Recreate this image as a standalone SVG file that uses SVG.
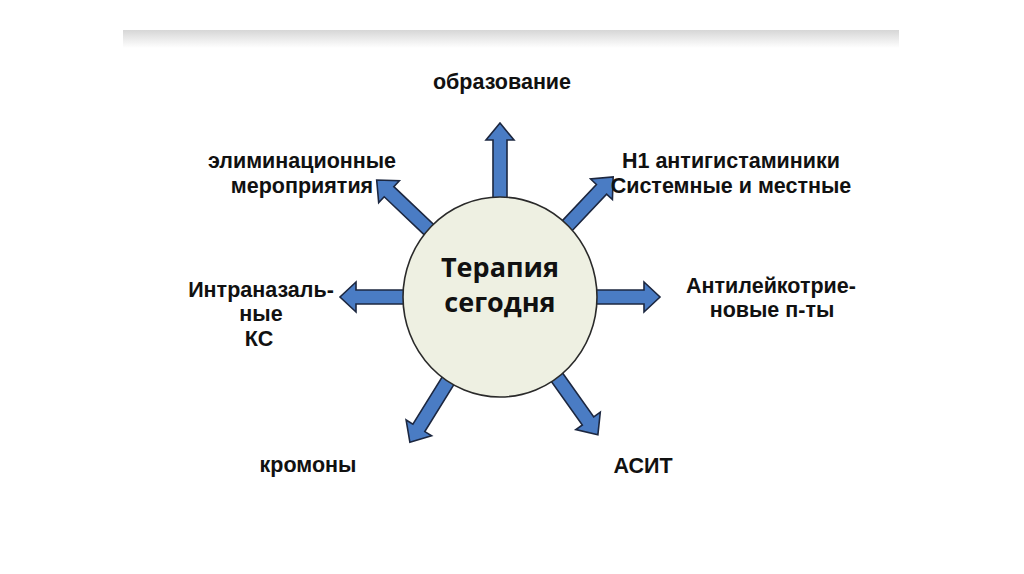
<svg xmlns="http://www.w3.org/2000/svg" width="1024" height="574" viewBox="0 0 1024 574">
<defs>
<linearGradient id="band" x1="0" y1="0" x2="0" y2="1">
<stop offset="0" stop-color="#d6d6d6"/>
<stop offset="0.5" stop-color="#ebebeb"/>
<stop offset="1" stop-color="#ffffff"/>
</linearGradient>
</defs>
<style>
.arr{fill:#4a7cc4;stroke:#1c2740;stroke-width:1.6;stroke-linejoin:miter}
.lbl{font-family:"Liberation Sans",Arial,sans-serif;font-weight:bold;font-size:21.5px;fill:#111;text-anchor:middle}
.ctr{font-family:"Open Sans","Liberation Sans",sans-serif;font-weight:bold;font-size:27px;fill:#111;text-anchor:middle}
</style>
<rect x="0" y="0" width="1024" height="574" fill="#ffffff"/>
<rect x="123" y="30" width="776" height="18" fill="url(#band)"/>
<g id="connectors">
<path class="arr" transform="translate(500,297) rotate(-90)" d="M85,-7 L157,-7 L157,-14 L174,0 L157,14 L157,7 L85,7 Z"/>
<path class="arr" transform="translate(500,297) rotate(180)" d="M85,-7 L144,-7 L144,-15 L160,0 L144,15 L144,7 L85,7 Z"/>
<path class="arr" transform="translate(500,297) rotate(0)" d="M85,-7 L144,-7 L144,-15 L160,0 L144,15 L144,7 L85,7 Z"/>
<path class="arr" transform="translate(500,297) rotate(-136.5)" d="M85,-7 L153,-7 L153,-15 L170,0 L153,15 L153,7 L85,7 Z"/>
<path class="arr" transform="translate(500,297) rotate(-46.7)" d="M85,-7 L148,-7 L148,-15 L165,0 L148,15 L148,7 L85,7 Z"/>
<path class="arr" transform="translate(500,297) rotate(121.8)" d="M85,-7 L154,-7 L154,-15 L171,0 L154,15 L154,7 L85,7 Z"/>
<path class="arr" transform="translate(500,297) rotate(54.6)" d="M85,-7 L152,-7 L152,-15 L169,0 L152,15 L152,7 L85,7 Z"/>
</g>
<g id="center">
<ellipse cx="500" cy="297" rx="97" ry="100" fill="#eef0e2" stroke="#2a2a2a" stroke-width="1.6"/>
<text class="ctr" x="500" y="277">Терапия</text>
<text class="ctr" x="500" y="312">сегодня</text>
</g>
<g id="n-obrazovanie"><text class="lbl" x="502" y="89">образование</text></g>
<g id="n-elim"><text class="lbl" x="302" y="168">элиминационные</text><text class="lbl" x="302" y="193">мероприятия</text></g>
<g id="n-h1"><text class="lbl" x="731" y="168">Н1 антигистаминики</text><text class="lbl" x="731" y="193">Системные и местные</text></g>
<g id="n-intra"><text class="lbl" x="261" y="297">Интраназаль-</text><text class="lbl" x="261" y="321">ные</text><text class="lbl" x="259" y="346">КС</text></g>
<g id="n-antilei"><text class="lbl" x="771" y="293">Антилейкотрие-</text><text class="lbl" x="772" y="317">новые п-ты</text></g>
<g id="n-kromony"><text class="lbl" x="308" y="472">кромоны</text></g>
<g id="n-asit"><text class="lbl" x="643" y="473">АСИТ</text></g>
</svg>
